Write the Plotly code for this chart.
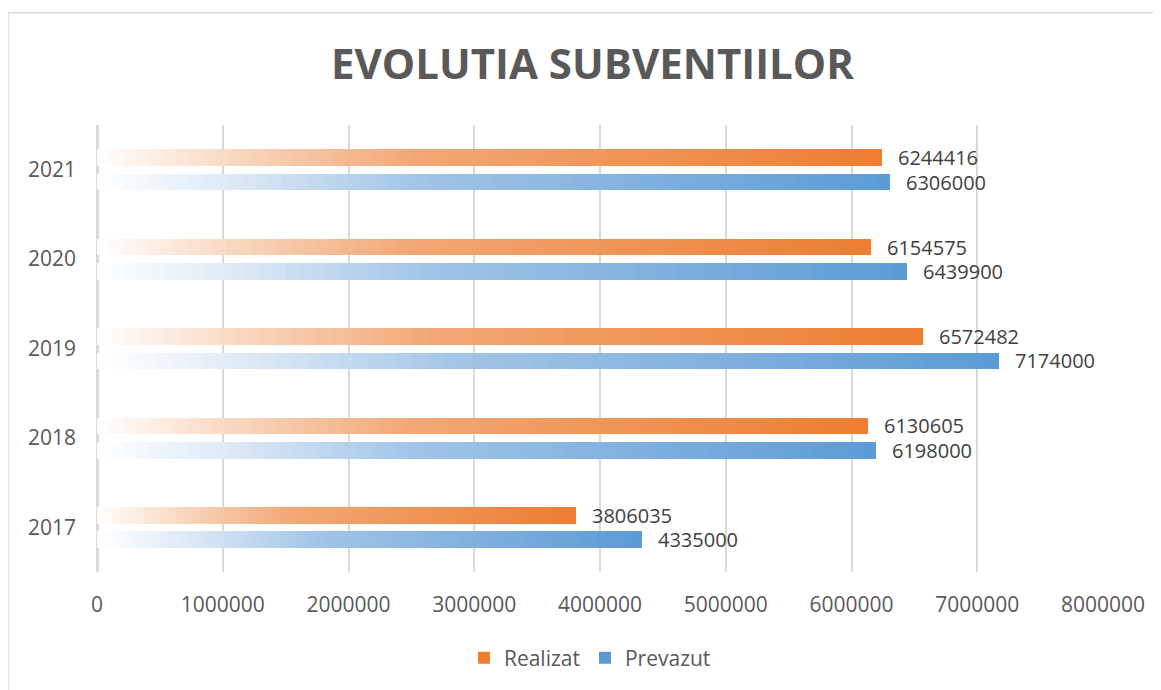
import plotly.graph_objects as go

# ---- data ----
years = ["2017", "2018", "2019", "2020", "2021"]
realizat = [3806035, 6130605, 6572482, 6154575, 6244416]
prevazut = [4335000, 6198000, 7174000, 6439900, 6306000]
x_ticks = [0, 1000000, 2000000, 3000000, 4000000, 5000000, 6000000, 7000000, 8000000]

# ---- style ----
ORANGE_STOPS = [(0.0, (255, 255, 255)), (0.18, (248, 214, 190)), (0.40, (242, 168, 118)), (1.0, (237, 125, 49))]
BLUE_STOPS = [(0.0, (255, 255, 255)), (0.18, (219, 232, 245)), (0.40, (162, 197, 231)), (1.0, (91, 155, 213))]
NSEG = 60
BAR_W = 0.185
OFF_R = 0.135
OFF_P = -0.138
FONT = "Open Sans"
PAGE_OFF = 8  # default body margin of the html page


def grad(stops, f):
    for (f0, c0), (f1, c1) in zip(stops[:-1], stops[1:]):
        if f <= f1:
            t = (f - f0) / (f1 - f0)
            return tuple(c0[i] + (c1[i] - c0[i]) * t for i in range(3))
    return stops[-1][1]


def rgb(c):
    return "rgb(%d,%d,%d)" % (round(c[0]), round(c[1]), round(c[2]))


fig = go.Figure()
idx = list(range(len(years)))

for values, stops, off in [(realizat, ORANGE_STOPS, OFF_R), (prevazut, BLUE_STOPS, OFF_P)]:
    for k in range(NSEG):
        col = rgb(grad(stops, (k + 0.5) / NSEG))
        fig.add_trace(go.Bar(
            orientation="h",
            y=[i + off for i in idx],
            x=[v / NSEG for v in values],
            base=[k * v / NSEG for v in values],
            width=BAR_W,
            marker=dict(color=col, line=dict(width=0)),
            showlegend=False,
            hoverinfo="skip",
        ))

# legend entries
fig.add_trace(go.Bar(orientation="h", x=[None], y=[None], name="Realizat",
                     marker=dict(color="#ed7d31", line=dict(width=0))))
fig.add_trace(go.Bar(orientation="h", x=[None], y=[None], name="Prevazut",
                     marker=dict(color="#5b9bd5", line=dict(width=0))))

annotations = []
for values, off in [(realizat, OFF_R), (prevazut, OFF_P)]:
    for i, v in zip(idx, values):
        annotations.append(dict(
            x=v, y=i + off, xref="x", yref="y", text=str(v), showarrow=False,
            xanchor="left", yanchor="middle", xshift=14,
            font=dict(family=FONT, size=20, color="#404040"),
        ))

W, H = 1161 - PAGE_OFF, 690 - PAGE_OFF
fig.update_layout(
    width=W, height=H,
    margin=dict(l=97 - PAGE_OFF, r=58, t=125 - PAGE_OFF, b=117),
    paper_bgcolor="white", plot_bgcolor="white",
    barmode="overlay",
    bargap=0,
    title=dict(text="<b>EVOLUTIA SUBVENTIILOR</b>", x=(592.5 - PAGE_OFF) / W, xref="container",
               xanchor="center", y=1 - (64 - PAGE_OFF) / H, yref="container", yanchor="middle",
               font=dict(family=FONT, size=42, color="#595959")),
    xaxis=dict(range=[0, 8000000], tickvals=x_ticks, tickformat="d",
               showgrid=True, gridcolor="#d9d9d9", gridwidth=1.5,
               zeroline=True, zerolinecolor="#d9d9d9", zerolinewidth=3,
               showline=False, ticks="", ticklabelstandoff=18,
               tickfont=dict(family=FONT, size=21, color="#595959"), fixedrange=True),
    yaxis=dict(range=[-0.5, 4.5], tickvals=idx, ticktext=years, showgrid=False,
               zeroline=False, showline=False, ticks="", ticklabelstandoff=20,
               tickfont=dict(family=FONT, size=21, color="#595959"), fixedrange=True),
    legend=dict(orientation="h", x=0.49, xanchor="center", y=-0.19, yanchor="middle",
                font=dict(family=FONT, size=21, color="#595959"), traceorder="normal",
                itemclick=False),
    annotations=annotations,
    shapes=[dict(type="rect", xref="paper", yref="paper",
                 x0=(8 - 97) / 1006, x1=(1190 - 97) / 1006,
                 y0=(573 - 720) / 448, y1=(573 - 12.5) / 448,
                 line=dict(color="#d9d9d9", width=1.5), fillcolor="rgba(0,0,0,0)", layer="below")],
    showlegend=True,
)

fig.write_html("out.html")
